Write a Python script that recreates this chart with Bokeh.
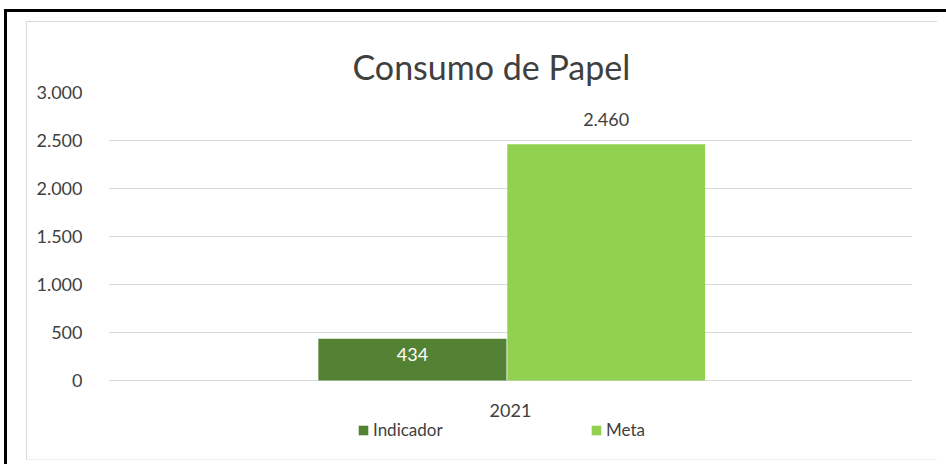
from bokeh.plotting import figure
from bokeh.models import (ColumnDataSource, FixedTicker, Legend, LegendItem, LabelSet,
                          Range1d, Title, InlineStyleSheet)
from bokeh.transform import dodge
from bokeh.core.properties import value
from bokeh.embed import file_html
from bokeh.resources import INLINE

# ---- data ----
categories = ["2021"]
indicador = [434]
meta = [2460]
series_names = ["Indicador", "Meta"]
y_ticks = [0, 500, 1000, 1500, 2000, 2500, 3000]
title_text = "Consumo de Papel"


def fmt(v):
    return f"{v:,}".replace(",", ".")


FONT = "Lato"
TXT = "#404040"

src = ColumnDataSource(dict(
    cat=categories,
    zero=[0] * len(categories),
    ind=indicador,
    meta=meta,
    ind_mid=[v / 2 for v in indicador],
    ind_lbl=[fmt(v) for v in indicador],
    meta_lbl=[fmt(v) for v in meta],
))

# frame spans down to the legend row; the value 0 sits at 380 px
p = figure(width=946, height=464, x_range=categories, y_range=Range1d(-750, 3000),
           output_backend="svg", toolbar_location=None,
           min_border_left=108, min_border_right=34, min_border_top=92, min_border_bottom=12)
p.outline_line_color = None
p.background_fill_color = "white"
p.border_fill_color = "white"

p.title = Title(text=title_text, align="left", offset=244, text_font=FONT,
                text_font_size="34px", text_font_style="normal", text_color=TXT, standoff=12)

r_ind = p.vbar(x=dodge("cat", -0.122, range=p.x_range), top="ind", width=0.234,
               source=src, fill_color="#548235", line_color=None)
r_meta = p.vbar(x=dodge("cat", 0.119, range=p.x_range), top="meta", width=0.246,
                source=src, fill_color="#92D050", line_color=None)

# grid
p.xgrid.grid_line_color = None
p.ygrid.ticker = FixedTicker(ticks=y_ticks)
p.ygrid.grid_line_color = "#d9d9d9"
p.ygrid.level = "underlay"

# axes
p.xaxis.visible = False
p.yaxis.ticker = FixedTicker(ticks=y_ticks)
p.yaxis.major_label_overrides = {t: fmt(t) for t in y_ticks}
ax = p.yaxis[0]
ax.axis_line_color = None
ax.major_tick_line_color = None
ax.minor_tick_line_color = None
ax.major_tick_out = 0
ax.major_tick_in = 0
ax.major_label_text_font = FONT
ax.major_label_text_font_size = "18px"
ax.major_label_text_color = TXT
ax.major_label_standoff = 26

# category label under the bars
p.add_layout(LabelSet(x="cat", y="zero", text="cat", source=src, text_align="center",
                      text_baseline="alphabetic", y_offset=-36, text_font=value(FONT),
                      text_font_size="18px", text_color=TXT))

# data labels
p.add_layout(LabelSet(x=dodge("cat", -0.122, range=p.x_range), y="ind_mid", text="ind_lbl",
                      source=src, text_align="center", text_baseline="alphabetic",
                      y_offset=-1, text_font=value(FONT), text_font_size="18px",
                      text_color="white"))
p.add_layout(LabelSet(x=dodge("cat", 0.119, range=p.x_range), y="meta", text="meta_lbl",
                      source=src, text_align="center", text_baseline="alphabetic",
                      y_offset=18, text_font=value(FONT), text_font_size="18px",
                      text_color=TXT))

# legend
leg = Legend(items=[LegendItem(label=series_names[0], renderers=[r_ind]),
                    LegendItem(label=series_names[1], renderers=[r_meta])],
             location=(249, 12), orientation="horizontal", glyph_width=12, glyph_height=12,
             label_height=16, label_width=217, label_standoff=4, padding=0, margin=0,
             spacing=0, label_text_font=FONT, label_text_font_size="17px",
             label_text_color=TXT, border_line_color=None, background_fill_alpha=0)
p.add_layout(leg, "center")

# chart-area border and outer frame (decoration)
p.stylesheets = [InlineStyleSheet(css="""
:host::before { content: ''; position: absolute; left: 4px; top: 9px; right: 0; bottom: 0;
  border-top: 3px solid black; border-left: 3px solid black; pointer-events: none; z-index: 5; }
:host::after { content: ''; position: absolute; left: 26px; top: 21px; width: 910px; height: 437px;
  border-top: 1px solid #d9d9d9; border-left: 1px solid #d9d9d9; border-bottom: 1px solid #eeeeee;
  pointer-events: none; z-index: 5; }
""")]

open("out.html", "w").write(file_html(p, INLINE))
